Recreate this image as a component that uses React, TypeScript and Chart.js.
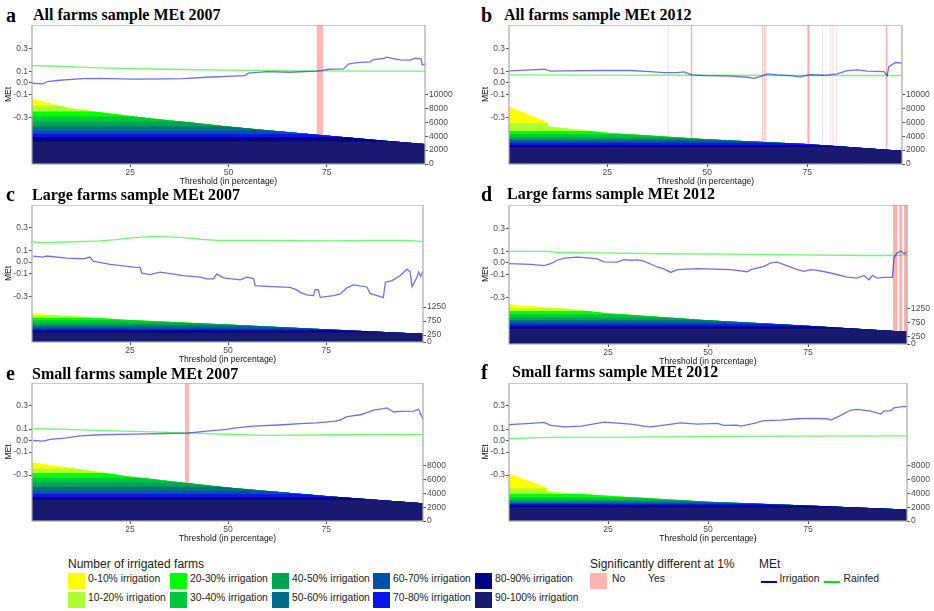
import React, { useEffect, useRef } from 'react';
import { Chart, registerables } from 'chart.js';

Chart.register(...registerables);

// ---------------- data ----------------
const thresholdTicks = [25, 50, 75];
const metTicks = [-0.3, -0.1, 0.0, 0.1, 0.3];
const countTicksAll = [0, 2000, 4000, 6000, 8000, 10000];
const countTicksSmall = [0, 2000, 4000, 6000, 8000];
const countTicksLarge = [0, 250, 750, 1250];

const categories = [
  '0-10% irrigation', '10-20% irrigation', '20-30% irrigation', '30-40% irrigation', '40-50% irrigation',
  '50-60% irrigation', '60-70% irrigation', '70-80% irrigation', '80-90% irrigation', '90-100% irrigation',
];
const categoryColors = [
  '#FFFF00', '#ADFF2F', '#00FF00', '#00C83E', '#00A552',
  '#006E8B', '#0050A8', '#0A14EE', '#000084', '#191970',
];

// panel a: All farms 2007
const aIrrX = [0, 2.7, 4.0, 7.0, 12.9, 17.2, 25.7, 34.2, 38.4, 44.4, 51.2, 54.2, 55.0, 59.7, 65.6, 72.4, 73.7, 75.4, 79.3, 80.5, 82.7, 86.1, 86.7, 89.5, 90.3, 91.6, 93.7, 96.3, 97.5, 99.0, 99.3, 100];
const aIrrY = [-0.003, -0.009, 0.012, 0.023, 0.037, 0.040, 0.032, 0.035, 0.037, 0.049, 0.058, 0.063, 0.084, 0.098, 0.092, 0.101, 0.107, 0.118, 0.121, 0.162, 0.176, 0.182, 0.199, 0.211, 0.222, 0.211, 0.199, 0.196, 0.213, 0.208, 0.156, 0.162];
const aRainX = [0, 5, 17, 34, 51, 68, 85, 100];
const aRainY = [0.150, 0.146, 0.130, 0.118, 0.110, 0.104, 0.102, 0.101];
const aTotalX = [0, 10, 20, 30, 40, 50, 60, 70, 80, 90, 100];
const aTotalY = [9400, 8000, 7250, 6600, 6000, 5410, 4850, 4350, 3850, 3350, 2880];
const aBreaks = [3250, 3890, 4320, 4790, 5410, 6130, 6850, 7570, 8390];
const aSig = [[72.4, 74.1, 0.5]];

// panel b: All farms 2012
const bIrrX = [0.4, 5.8, 9.2, 10.8, 14.2, 22.5, 30.8, 35.8, 39.2, 42.5, 44.2, 46.1, 49.2, 55.8, 60, 61.7, 63.3, 65, 67.5, 70.8, 73.3, 74.2, 75.8, 79.2, 82.5, 85, 87.5, 90, 94.2, 95, 95.4, 97.1, 98.7];
const bIrrY = [0.104, 0.112, 0.118, 0.101, 0.104, 0.107, 0.107, 0.098, 0.089, 0.089, 0.095, 0.069, 0.063, 0.058, 0.049, 0.040, 0.055, 0.078, 0.069, 0.063, 0.052, 0.061, 0.072, 0.066, 0.078, 0.107, 0.112, 0.101, 0.098, 0.063, 0.141, 0.176, 0.170];
const bRainX = [0.4, 25, 50, 75, 98.7];
const bRainY = [0.069, 0.068, 0.066, 0.064, 0.064];
const bTotalX = [0.4, 10.1, 10.1, 25, 50, 75, 98.7];
const bTotalY = [8270, 5960, 5380, 4500, 3560, 2880, 1920];
const bBreaks = [2450, 2740, 3070, 3280, 3560, 3850, 4290, 4760, 5870];
const bSig = [
  [40.0, 40.4, 0.2], [45.8, 46.3, 0.55], [63.6, 63.9, 0.5], [64.1, 64.4, 0.5], [64.5, 64.8, 0.5],
  [75.0, 75.6, 0.6], [78.7, 79.0, 0.2], [80.6, 80.9, 0.25], [81.3, 81.6, 0.4], [82.2, 82.5, 0.2], [94.6, 95.1, 0.55],
];

// panel c: Large farms 2007
const cIrrX = [0.3, 2.9, 3.7, 8.8, 13.1, 14.8, 15.6, 19.9, 25.9, 27.6, 28.0, 30.1, 32.7, 38.6, 42.9, 44.6, 46.3, 47.1, 48.8, 53.1, 54.8, 56.5, 56.9, 59.9, 65.8, 67.5, 68.4, 70.1, 71.8, 72.2, 73.0, 73.5, 76.9, 78.6, 80.3, 82.0, 85.4, 86.2, 88.8, 89.6, 90.1, 91.8, 93.9, 95.6, 96.4, 96.9, 98.1, 98.6, 99.1, 99.7];
const cIrrY = [0.053, 0.044, 0.053, 0.035, 0.029, 0.044, 0.009, -0.021, -0.044, -0.047, -0.097, -0.109, -0.088, -0.118, -0.132, -0.147, -0.147, -0.103, -0.138, -0.156, -0.132, -0.144, -0.206, -0.212, -0.221, -0.244, -0.265, -0.288, -0.294, -0.241, -0.241, -0.309, -0.294, -0.279, -0.226, -0.200, -0.218, -0.274, -0.303, -0.309, -0.176, -0.162, -0.118, -0.062, -0.085, -0.215, -0.138, -0.088, -0.126, -0.079];
const cRainX = [0.3, 2.9, 8.8, 17.3, 21.5, 25.9, 29.3, 31.9, 38.6, 42.9, 47.1, 59.9, 76.9, 85.4, 93.9, 98.1, 99.7];
const cRainY = [0.176, 0.171, 0.176, 0.185, 0.197, 0.215, 0.221, 0.226, 0.215, 0.200, 0.191, 0.191, 0.185, 0.191, 0.191, 0.185, 0.179];
const cTotalX = [0, 25, 50, 75, 99.7];
const cTotalY = [1017, 790, 625, 460, 292];
const cBreaks = [351, 411, 458, 518, 601, 684, 780, 863, 946];
const cSig: number[][] = [];

// panel d: Large farms 2012
const dIrrX = [0.25, 5.7, 9, 10.7, 12.3, 14, 17.3, 20.7, 22.3, 24, 27.3, 29, 30.7, 32.3, 34, 37.3, 39, 40.7, 42.3, 47.3, 55.7, 59.8, 60.7, 64, 65.7, 67.3, 69, 72.3, 74, 75.7, 77.3, 80.7, 84.8, 87.3, 89, 90.25, 91.1, 92.3, 94, 96.1, 96.5, 97.3, 98.2, 99, 99.75];
const dIrrY = [-0.006, -0.012, -0.023, -0.006, 0.023, 0.041, 0.050, 0.041, 0.035, 0.009, 0.006, 0.029, 0.023, 0.026, 0.015, -0.035, -0.052, -0.082, -0.058, -0.050, -0.058, -0.076, -0.058, -0.029, 0, 0.006, -0.015, -0.058, -0.073, -0.058, -0.064, -0.087, -0.122, -0.131, -0.108, -0.146, -0.108, -0.131, -0.125, -0.125, 0.044, 0.087, 0.102, 0.079, 0.096];
const dRainX = [0.25, 10, 12.3, 22.3, 39, 55.7, 72.3, 89, 96.5, 99.75];
const dRainY = [0.099, 0.099, 0.090, 0.087, 0.079, 0.076, 0.070, 0.064, 0.064, 0.070];
const dTotalX = [0.25, 2, 5.7, 14, 25, 50, 75, 99.75];
const dTotalY = [1420, 1370, 1340, 1250, 1085, 840, 640, 432];
const dBreaks = [548, 618, 700, 758, 840, 933, 1050, 1167, 1248];
const dSig = [[96.2, 97.4, 0.55], [97.8, 98.6, 0.55], [98.9, 99.8, 0.55]];

// panel e: Small farms 2007
const eIrrX = [0.3, 2.9, 4.6, 8.8, 12.2, 17.3, 25.9, 34.4, 39.5, 44.6, 49.7, 51.4, 56.5, 64.1, 68.4, 72.6, 76.9, 78.6, 80.3, 83.7, 85.4, 87.1, 89.6, 90.5, 92.2, 93.9, 97.3, 98.6, 99.1, 99.7];
const eIrrY = [0, -0.006, 0.009, 0.023, 0.041, 0.050, 0.055, 0.061, 0.064, 0.082, 0.096, 0.108, 0.125, 0.137, 0.146, 0.154, 0.166, 0.178, 0.207, 0.224, 0.242, 0.265, 0.277, 0.283, 0.248, 0.253, 0.256, 0.271, 0.227, 0.189];
const eRainX = [0.3, 8.8, 25.9, 39.5, 51.4, 59.9, 76.9, 99.7];
const eRainY = [0.102, 0.096, 0.079, 0.067, 0.052, 0.044, 0.050, 0.052];
const eTotalX = [0, 25, 39.5, 50, 75, 99.7];
const eTotalY = [8500, 6460, 5490, 4860, 3640, 2580];
const eBreaks = [3056, 3492, 3929, 4365, 4947, 5587, 6257, 6940, 7624];
const eSig = [[39.0, 40.1, 0.5]];

// panel f: Small farms 2012
const fIrrX = [0.25, 2.3, 5.7, 9, 10.7, 14, 18.2, 22.3, 24, 30.7, 34, 35.7, 39, 43.2, 47.3, 52.3, 54, 57.3, 58.2, 61.5, 64, 68.2, 72.3, 76.5, 79.8, 80.7, 83.2, 85.7, 87.3, 90.7, 93.2, 94, 95.7, 96.5, 98.6, 99.75];
const fIrrY = [0.137, 0.143, 0.149, 0.157, 0.131, 0.119, 0.125, 0.149, 0.160, 0.143, 0.125, 0.119, 0.134, 0.154, 0.143, 0.149, 0.131, 0.134, 0.125, 0.149, 0.172, 0.178, 0.189, 0.192, 0.189, 0.178, 0.218, 0.265, 0.271, 0.256, 0.230, 0.256, 0.259, 0.283, 0.294, 0.294];
const fRainX = [0.25, 5.7, 14, 30.7, 55.7, 72.3, 99.75];
const fRainY = [0.015, 0.023, 0.029, 0.029, 0.035, 0.038, 0.041];
const fTotalX = [0.25, 9.8, 9.8, 25, 50, 75, 99.75];
const fTotalY = [6860, 4860, 4230, 3660, 2800, 2240, 1660];
const fBreaks = [1997, 2238, 2476, 2619, 2810, 3048, 3429, 3906, 4714];
const fSig: number[][] = [];

// ---------------- styles / layout ----------------
const SERIF = "'Liberation Serif', 'Times New Roman', serif";
const SANS = "'Liberation Sans', Arial, sans-serif";
const TICK_COLOR = '#4d4d4d';
const IRR_LINE = 'rgba(0,0,235,0.57)';
const RAIN_LINE = 'rgba(0,240,0,0.56)';
const MET_MIN = -0.7;
const MET_MAX = 0.5;

const PANELS = [
  { letter: 'a', title: 'All farms sample MEt 2007', irrX: aIrrX, irrY: aIrrY, rainX: aRainX, rainY: aRainY, totalX: aTotalX, totalY: aTotalY, breaks: aBreaks, sig: aSig, countTicks: countTicksAll, countMax: 20000, xMin: 0, xMax: 100,
    box: { L: 32, R: 425, T: 25, B: 164 }, wR: 30, letterX: 6, titleX: 33, baseline: 20.7 },
  { letter: 'b', title: 'All farms sample MEt 2012', irrX: bIrrX, irrY: bIrrY, rainX: bRainX, rainY: bRainY, totalX: bTotalX, totalY: bTotalY, breaks: bBreaks, sig: bSig, countTicks: countTicksAll, countMax: 20000, xMin: 0.4, xMax: 98.7,
    box: { L: 509, R: 902, T: 25, B: 164 }, wR: 30, letterX: 481, titleX: 504, baseline: 20.7 },
  { letter: 'c', title: 'Large farms sample MEt 2007', irrX: cIrrX, irrY: cIrrY, rainX: cRainX, rainY: cRainY, totalX: cTotalX, totalY: cTotalY, breaks: cBreaks, sig: cSig, countTicks: countTicksLarge, countMax: 4900, xMin: 0, xMax: 99.7,
    box: { L: 32, R: 423, T: 205, B: 342 }, wR: 30, letterX: 6, titleX: 32, baseline: 200 },
  { letter: 'd', title: 'Large farms sample MEt 2012', irrX: dIrrX, irrY: dIrrY, rainX: dRainX, rainY: dRainY, totalX: dTotalX, totalY: dTotalY, breaks: dBreaks, sig: dSig, countTicks: countTicksLarge, countMax: 4900, xMin: 0.25, xMax: 99.75,
    box: { L: 509, R: 907, T: 205, B: 344 }, wR: 27, letterX: 481, titleX: 507, baseline: 199.5 },
  { letter: 'e', title: 'Small farms sample MEt 2007', irrX: eIrrX, irrY: eIrrY, rainX: eRainX, rainY: eRainY, totalX: eTotalX, totalY: eTotalY, breaks: eBreaks, sig: eSig, countTicks: countTicksSmall, countMax: 20000, xMin: 0, xMax: 99.7,
    box: { L: 32, R: 423, T: 383, B: 521 }, wR: 30, letterX: 6, titleX: 32, baseline: 379 },
  { letter: 'f', title: 'Small farms sample MEt 2012', irrX: fIrrX, irrY: fIrrY, rainX: fRainX, rainY: fRainY, totalX: fTotalX, totalY: fTotalY, breaks: fBreaks, sig: fSig, countTicks: countTicksSmall, countMax: 20000, xMin: 0.25, xMax: 99.75,
    box: { L: 509, R: 907, T: 383, B: 521 }, wR: 27, letterX: 481, titleX: 512, baseline: 377.5 },
];

const W_LEFT = 32;
const H_X = 23;

const pts = (xs: number[], ys: number[]) => xs.map((x, i) => ({ x, y: ys[i] }));

const framePlugin = {
  id: 'panelFrame',
  afterDatasetsDraw(chart: any) {
    const { ctx, chartArea: a } = chart;
    ctx.save();
    ctx.strokeStyle = '#a9a9a9';
    ctx.lineWidth = 1.2;
    ctx.strokeRect(a.left, a.top, a.right - a.left, a.bottom - a.top);
    ctx.restore();
  },
};

// Clips the stacked count bands to the region below the total-count curve
const bandClipPlugin = {
  id: 'bandClip',
  afterDatasetDraw(chart: any, args: any) {
    const ds = chart.data.datasets[args.index];
    if (!ds || ds.clipRole !== 'start') return;
    const { ctx } = chart;
    const xs = chart.scales.x;
    const ys = chart.scales.y2;
    const line = ds.clipLine as { x: number; y: number }[];
    ctx.save();
    ctx.beginPath();
    ctx.moveTo(xs.getPixelForValue(line[0].x), ys.getPixelForValue(0));
    line.forEach((p) => ctx.lineTo(xs.getPixelForValue(p.x), ys.getPixelForValue(p.y)));
    ctx.lineTo(xs.getPixelForValue(line[line.length - 1].x), ys.getPixelForValue(0));
    ctx.closePath();
    ctx.clip();
  },
  beforeDatasetDraw(chart: any, args: any) {
    const ds = chart.data.datasets[args.index];
    if (!ds || ds.clipRole !== 'end') return;
    chart.ctx.restore();
  },
};

const tickFont = { size: 8.5, family: SANS };

function Panel({ cfg }: { cfg: any }) {
  const ref = useRef<HTMLCanvasElement>(null);
  const { box, wR } = cfg;
  const W = W_LEFT + (box.R - box.L) + wR;
  const H = (box.B - box.T) + H_X;

  useEffect(() => {
    if (!ref.current) return;
    const datasets: any[] = [];
    datasets.push({
      label: 'Irrigation', data: pts(cfg.irrX, cfg.irrY), yAxisID: 'y',
      borderColor: IRR_LINE, borderWidth: 1.3, pointRadius: 0, fill: false, order: 0,
    });
    datasets.push({
      label: 'Rainfed', data: pts(cfg.rainX, cfg.rainY), yAxisID: 'y',
      borderColor: RAIN_LINE, borderWidth: 1.3, pointRadius: 0, fill: false, order: 1,
    });
    // end of band clipping (drawn right after the bands)
    datasets.push({ label: '', data: [], yAxisID: 'y', clipRole: 'end', order: 5, pointRadius: 0, borderWidth: 0 });
    // count bands: each band filled from its upper boundary down to zero; lower bands drawn over higher ones
    categories.forEach((cat, i) => {
      const upper = i === 0 ? cfg.countMax : cfg.breaks[9 - i];
      datasets.push({
        label: cat, data: [{ x: cfg.xMin, y: upper }, { x: cfg.xMax, y: upper }], yAxisID: 'y2',
        borderWidth: 0, borderColor: 'rgba(0,0,0,0)', pointRadius: 0,
        fill: 'start', backgroundColor: categoryColors[i],
        order: 19 - i,
      });
    });
    // start of band clipping: region under the total-count curve
    datasets.push({ label: '', data: [], yAxisID: 'y', clipRole: 'start', clipLine: pts(cfg.totalX, cfg.totalY), order: 25, pointRadius: 0, borderWidth: 0 });
    cfg.sig.forEach((s: number[]) => {
      datasets.push({
        label: 'No', data: [{ x: s[0], y: MET_MAX }, { x: s[1], y: MET_MAX }], yAxisID: 'y',
        borderWidth: 0, borderColor: 'rgba(0,0,0,0)', pointRadius: 0,
        fill: 'start', backgroundColor: `rgba(255,110,110,${s[2]})`, order: 30,
      });
    });

    const chart = new Chart(ref.current, {
      type: 'line',
      data: { datasets },
      options: {
        animation: false,
        responsive: false,
        maintainAspectRatio: false,
        layout: { padding: 0 },
        plugins: { legend: { display: false }, tooltip: { enabled: false }, title: { display: false } },
        scales: {
          x: {
            type: 'linear', min: cfg.xMin, max: cfg.xMax,
            afterBuildTicks: (s: any) => { s.ticks = thresholdTicks.map((v) => ({ value: v })); },
            ticks: { autoSkip: false, maxRotation: 0, padding: 1, color: TICK_COLOR, font: tickFont, callback: (v: any) => String(v) },
            grid: { drawOnChartArea: false, drawTicks: true, tickLength: 3, tickColor: '#555' },
            border: { display: false },
            title: { display: true, text: 'Threshold (in percentage)', color: '#111', font: tickFont, padding: { top: 0, bottom: 0 } },
            afterFit: (s: any) => { s.height = H_X; s.paddingLeft = 0; s.paddingRight = 0; },
          },
          y: {
            type: 'linear', position: 'left', min: MET_MIN, max: MET_MAX,
            afterBuildTicks: (s: any) => { s.ticks = metTicks.map((v) => ({ value: v })); },
            ticks: { autoSkip: false, padding: 1, color: TICK_COLOR, font: tickFont, callback: (v: any) => Number(v).toFixed(1) },
            grid: { drawOnChartArea: false, drawTicks: true, tickLength: 3, tickColor: '#555' },
            border: { display: false },
            title: { display: true, text: 'MEt', color: '#111', font: tickFont, padding: { top: 4, bottom: 0 } },
            afterFit: (s: any) => { s.width = W_LEFT; s.paddingTop = 0; s.paddingBottom = 0; },
          },
          y2: {
            type: 'linear', position: 'right', min: 0, max: cfg.countMax,
            afterBuildTicks: (s: any) => { s.ticks = cfg.countTicks.map((v: number) => ({ value: v })); },
            ticks: { autoSkip: false, padding: 1, color: TICK_COLOR, font: tickFont, callback: (v: any) => String(v) },
            grid: { drawOnChartArea: false, drawTicks: true, tickLength: 3, tickColor: '#555' },
            border: { display: false },
            afterFit: (s: any) => { s.width = wR; s.paddingTop = 0; s.paddingBottom = 0; },
          },
        },
      } as any,
      plugins: [bandClipPlugin, framePlugin],
    });
    return () => chart.destroy();
  }, []);

  return (
    <>
      <div style={{ position: 'absolute', left: cfg.letterX, top: cfg.baseline + 0.8 - 0.8375 * 20, font: `bold 20px ${SERIF}`, lineHeight: '20px', whiteSpace: 'nowrap', color: '#000' }}>{cfg.letter}</div>
      <div style={{ position: 'absolute', left: cfg.titleX, top: cfg.baseline - 0.8375 * 16, font: `bold 16px ${SERIF}`, lineHeight: '16px', whiteSpace: 'nowrap', color: '#000' }}>{cfg.title}</div>
      <canvas ref={ref} width={W} height={H} style={{ position: 'absolute', left: box.L - W_LEFT, top: box.T, width: W, height: H }} />
    </>
  );
}

const legendCols = [68, 170, 272, 373, 475];
const legendRows = [573, 592];

function Legend() {
  const label = (text: string, left: number, top: number) => (
    <div style={{ position: 'absolute', left, top, height: 16, lineHeight: '16px', font: `10.3px ${SANS}`, color: '#1a1a1a', whiteSpace: 'nowrap' }}>{text}</div>
  );
  const title = (text: string, left: number) => (
    <div style={{ position: 'absolute', left, top: 557, lineHeight: '12px', font: `12px ${SANS}`, color: '#1a1a1a', whiteSpace: 'nowrap' }}>{text}</div>
  );
  return (
    <>
      {title('Number of irrigated farms', 68)}
      {categories.map((cat, i) => {
        const col = Math.floor(i / 2);
        const row = i % 2;
        return (
          <React.Fragment key={cat}>
            <div style={{ position: 'absolute', left: legendCols[col], top: legendRows[row], width: 17, height: 16, background: categoryColors[i] }} />
            {label(cat, legendCols[col] + 20, legendRows[row])}
          </React.Fragment>
        );
      })}
      {title('Significantly different at 1%', 590)}
      <div style={{ position: 'absolute', left: 590, top: 573, width: 17, height: 16, background: '#FFB4B4' }} />
      {label('No', 612, 573)}
      {label('Yes', 648, 573)}
      {title('MEt', 759)}
      <div style={{ position: 'absolute', left: 761, top: 580.5, width: 16, height: 2.2, background: '#0000CD' }} />
      {label('Irrigation', 779.5, 573)}
      <div style={{ position: 'absolute', left: 824, top: 580.5, width: 16, height: 2.2, background: '#00E600' }} />
      {label('Rainfed', 843.5, 573)}
    </>
  );
}

export default function App() {
  return (
    <div style={{ position: 'absolute', left: 0, top: 0, width: 934, height: 611, overflow: 'hidden', background: '#fff' }}>
      {PANELS.map((p) => <Panel key={p.letter} cfg={p} />)}
      <Legend />
    </div>
  );
}
